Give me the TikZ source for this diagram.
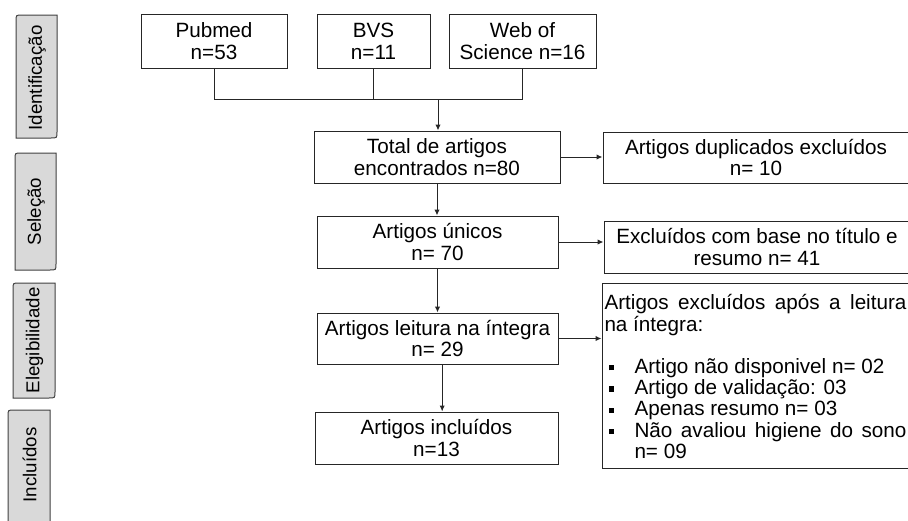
\documentclass[tikz,border=0pt]{standalone}
\usepackage{fontspec}
\setmainfont{Liberation Sans}
\usetikzlibrary{arrows.meta}
\newcommand\bitem{\hangindent=22.5pt\hangafter=1\noindent\makebox[22.5pt][l]{\hspace{3.2pt}\rule[2.3pt]{3.9pt}{3.9pt}}}
\begin{document}
\begin{tikzpicture}[x=0.75pt,y=-0.75pt,
  box/.style={draw=black!85, line width=0.75pt, align=center, inner sep=0pt,
    font=\fontsize{15.5pt}{16.3pt}\selectfont},
  tab/.style={draw=black!75, fill=black!15, line width=0.75pt},
  tablabel/.style={rotate=90, inner sep=0pt, font=\fontsize{14pt}{15pt}\selectfont},
  arr/.style={-{Latex[length=4.5pt,width=4pt]}, line width=0.75pt, draw=black!85},
  ln/.style={line width=0.75pt, draw=black!85}]
\useasboundingbox (0,0) rectangle (908,521);

% side tabs
\draw[tab] (16,138) -- (16,21) .. controls (16,15) .. (22,15) -- (57,15) -- (57,132) .. controls (57,138) .. (51,138) -- cycle;
\node[tablabel] (tident) at (37,78) {Identificação};
\draw[tab] (15,270) -- (15,159) .. controls (15,153) .. (21,153) -- (56,153) -- (56,264) .. controls (56,270) .. (50,270) -- cycle;
\node[tablabel] (tsel) at (36,211.5) {Seleção};
\draw[tab] (13,398) -- (13,289) .. controls (13,283) .. (19,283) -- (55,283) -- (55,392) .. controls (55,398) .. (49,398) -- cycle;
\node[tablabel] (teleg) at (34.5,340.5) {Elegibilidade};
\draw[tab] (8,530) -- (8,416) .. controls (8,410) .. (14,410) -- (50,410) -- (50,530) -- cycle;
\node[tablabel] (tincl) at (29.5,465) {Incluídos};

% boxes
\node[box, minimum width=109.5pt, minimum height=40.5pt] (pub) at (214,41) {Pubmed\\n=53};
\node[box, minimum width=84.75pt, minimum height=40.5pt] (bvs) at (373.5,41) {BVS\\n=11};
\node[box, minimum width=110.25pt, minimum height=40.5pt] (wos) at (522.5,41) {Web of\\Science n=16};
\node[box, minimum width=184.5pt, minimum height=39pt] (total) at (437,157) {Total de artigos\\encontrados n=80};
\node[box, minimum width=229.5pt, minimum height=38.25pt] (dup) at (756,157.5) {Artigos duplicados excluídos\\n= 10};
\node[box, minimum width=180.75pt, minimum height=39pt] (unicos) at (437.5,242) {Artigos únicos\\n= 70};
\node[box, minimum width=229.5pt, minimum height=39pt] (excl) at (757,247) {Excluídos com base no título e\\resumo n= 41};
\node[box, minimum width=180.75pt, minimum height=38.25pt] (leit) at (437.5,338.5) {Artigos leitura na íntegra\\n= 29};
\node[box, minimum width=182.25pt, minimum height=39pt] (incl) at (436.5,438) {Artigos incluídos\\n=13};
\node[box, align=left, minimum width=230.25pt, minimum height=138.75pt] (big) at (755.5,375.5) {\begin{minipage}{226.5pt}\fontsize{15.5pt}{15.9pt}\selectfont\setlength{\parindent}{0pt}%
\vspace{1.5pt}%
Artigos excluídos após a leitura\linebreak na íntegra:\par
\vspace{15.9pt}
\bitem Artigo não disponivel n= 02\par
\bitem Artigo de validação: 03\par
\bitem Apenas resumo n= 03\par
\bitem Não avaliou higiene do sono\linebreak n= 09\par
\end{minipage}};

% connectors
\coordinate (join) at (438,99);
\draw[ln] (pub.south) -- (pub.south |- join) -- (wos.south |- join) -- (wos.south);
\draw[ln] (bvs.south) -- (bvs.south |- join);
\draw[arr] (join) -- (join |- total.north);
\draw[arr] (total.east) -- (total.east -| dup.west);
\draw[arr] (total.south) -- (total.south |- unicos.north);
\draw[arr] (unicos.east) -- (unicos.east -| excl.west);
\draw[arr] (unicos.south) -- (unicos.south |- leit.north);
\draw[arr] (leit.east) -- (leit.east -| big.west);
\draw[arr] ([xshift=3.5pt]leit.south) -- ([xshift=3.5pt]leit.south |- incl.north);
\end{tikzpicture}
\end{document}
